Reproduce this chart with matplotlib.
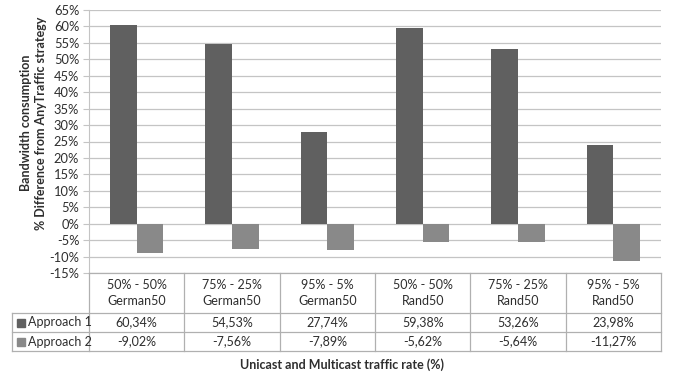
import matplotlib
matplotlib.use("Agg")
import matplotlib.pyplot as plt
from matplotlib.lines import Line2D
from matplotlib.patches import Rectangle
from matplotlib.transforms import blended_transform_factory

plt.rcParams['font.family'] = ['Lato', 'DejaVu Sans']

categories = ["50% - 50%\nGerman50", "75% - 25%\nGerman50", "95% - 5%\nGerman50",
              "50% - 50%\nRand50", "75% - 25%\nRand50", "95% - 5%\nRand50"]
approach1 = [60.34, 54.53, 27.74, 59.38, 53.26, 23.98]
approach2 = [-9.02, -7.56, -7.89, -5.62, -5.64, -11.27]
series_names = ["Approach 1", "Approach 2"]
yticks = list(range(-15, 70, 5))

W, H = 673, 377
fig = plt.figure(figsize=(W / 100, H / 100), dpi=100)

def fx(px):
    return px / W

def fy(py):
    return 1 - py / H

ax_left, ax_right, ax_top, ax_bottom = 89, 661, 10, 273
ax = fig.add_axes([fx(ax_left), fy(ax_bottom), fx(ax_right - ax_left), (ax_bottom - ax_top) / H])

c1, c2 = "#606060", "#898989"
grid_c = "#c4c4c4"
line_c = "#b0b0b0"
txt_c = "#2e2e2e"
fs = 9
bw = 0.28
n = len(categories)
xs = list(range(n))

ax.bar([x - bw for x in xs], approach1, width=bw, align='edge', color=c1, zorder=3)
ax.bar(xs, approach2, width=bw, align='edge', color=c2, zorder=3)

ax.set_xlim(-0.5, n - 0.5)
ax.set_ylim(-15, 65)
ax.set_yticks(yticks)
ax.set_yticklabels([f"{t}%" for t in yticks], fontsize=fs + 0.3, color=txt_c)
ax.yaxis.grid(True, color=grid_c, linewidth=0.9, zorder=0)
ax.set_xticks([])
ax.tick_params(axis='y', length=4, color=grid_c, pad=3)
for side in ['top', 'right', 'bottom']:
    ax.spines[side].set_visible(False)
ax.spines['left'].set_color(grid_c)

fig.text(fx(34), fy(123), "Bandwidth consumption\n% Difference from AnyTraffic strategy",
         rotation=90, ha='center', va='center', multialignment='center',
         fontsize=fs, fontweight='bold', color=txt_c, linespacing=1.3)

# data table under the axis
tr = blended_transform_factory(ax.transData, fig.transFigure)
rows_y = [273, 313, 332, 351]

def vline(x, py0, py1):
    fig.add_artist(Line2D([x, x], [fy(py0), fy(py1)], transform=tr,
                          color=line_c, linewidth=0.9))

fig.add_artist(Line2D([-0.5, n - 0.5], [fy(rows_y[0])] * 2, transform=tr,
                      color=line_c, linewidth=0.9))
for py in rows_y[1:]:
    fig.add_artist(Line2D([fx(12), fx(ax_right)], [fy(py), fy(py)],
                          transform=fig.transFigure, color=line_c, linewidth=0.9))
for b in range(n + 1):
    vline(b - 0.5, rows_y[0], rows_y[3])
fig.add_artist(Line2D([fx(12), fx(12)], [fy(rows_y[1]), fy(rows_y[3])],
                      transform=fig.transFigure, color=line_c, linewidth=0.9))

for i, cat in enumerate(categories):
    fig.text(i, fy(293), cat, transform=tr, ha='center', va='center',
             fontsize=fs, color=txt_c, linespacing=1.45)
    fig.text(i, fy(322.5), f"{approach1[i]:.2f}%".replace('.', ','), transform=tr,
             ha='center', va='center', fontsize=fs, color=txt_c)
    fig.text(i, fy(341.5), f"{approach2[i]:.2f}%".replace('.', ','), transform=tr,
             ha='center', va='center', fontsize=fs, color=txt_c)

for name, col, py in zip(series_names, [c1, c2], [322.5, 341.5]):
    fig.add_artist(Rectangle((fx(17), fy(py + 4)), fx(8), 8 / H,
                             transform=fig.transFigure, color=col))
    fig.text(fx(28), fy(py), name, ha='left', va='center', fontsize=fs, color=txt_c)

fig.text(fx(342), fy(365), "Unicast and Multicast traffic rate (%)", ha='center',
         va='center', fontsize=fs, fontweight='bold', color=txt_c)

fig.savefig("out.png", dpi=100)
